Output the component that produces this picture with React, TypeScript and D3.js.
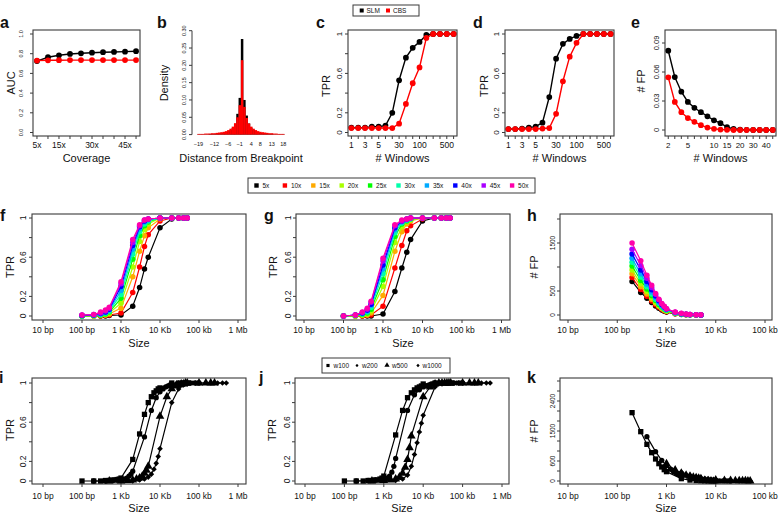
import React from "react";
import * as d3 from "d3";

const FONT = "'Liberation Sans', Arial, Helvetica, sans-serif";
const INK = "#111111";
const FRAME = "#3a3a3a";

// ================= DATA =================
// panel a
const coverage = ["5x", "10x", "15x", "20x", "25x", "30x", "35x", "40x", "45x", "50x"];
const aucSLM = [0.725, 0.764, 0.784, 0.797, 0.804, 0.81, 0.815, 0.818, 0.821, 0.825];
const aucCBS = [0.73, 0.733, 0.734, 0.735, 0.735, 0.735, 0.735, 0.735, 0.735, 0.735];
const aucXLabels = ["5x", "15x", "30x", "45x"];
const aucTicks = [0, 0.2, 0.4, 0.6, 0.8, 1];

// panel b
const distances = [-19, -18, -17, -16, -15, -14, -13, -12, -11, -10, -9, -8, -7, -6, -5, -4, -3, -2, -1, 0, 1, 2, 3, 4, 5, 6, 7, 8, 9, 10, 11, 12, 13, 14, 15, 16, 17, 18];
const densSLM = [0.001, 0.001, 0.001, 0.001, 0.001, 0.002, 0.002, 0.002, 0.003, 0.003, 0.004, 0.005, 0.007, 0.009, 0.013, 0.019, 0.03, 0.06, 0.106, 0.276, 0.1, 0.055, 0.032, 0.02, 0.014, 0.01, 0.007, 0.005, 0.004, 0.003, 0.003, 0.002, 0.002, 0.001, 0.001, 0.001, 0.001, 0.001];
const densCBS = [0.002, 0.002, 0.002, 0.003, 0.003, 0.003, 0.004, 0.004, 0.005, 0.006, 0.007, 0.008, 0.01, 0.013, 0.017, 0.023, 0.033, 0.05, 0.085, 0.215, 0.08, 0.048, 0.032, 0.023, 0.017, 0.013, 0.01, 0.008, 0.007, 0.006, 0.005, 0.004, 0.004, 0.003, 0.003, 0.002, 0.002, 0.002];
const distLabels = [-19, -12, -6, -1, 4, 8, 13, 18];
const densTicks = [0, 0.05, 0.1, 0.15, 0.2, 0.25, 0.3];

// panels c, d
const windowsCats = [1, 2, 3, 4, 5, 10, 20, 30, 40, 50, 100, 200, 300, 400, 500, 1000];
const windowsLabels = [1, 3, 5, 30, 100, 500];
const cSLM = [0.05, 0.05, 0.05, 0.06, 0.06, 0.07, 0.2, 0.53, 0.76, 0.86, 0.92, 0.99, 1, 1, 1, 1];
const cCBS = [0.045, 0.045, 0.045, 0.045, 0.045, 0.045, 0.045, 0.09, 0.29, 0.5, 0.66, 0.96, 1, 1, 1, 1];
const dSLM = [0.035, 0.035, 0.04, 0.05, 0.06, 0.1, 0.36, 0.75, 0.9, 0.95, 0.98, 1, 1, 1, 1, 1];
const dCBS = [0.035, 0.035, 0.035, 0.035, 0.035, 0.04, 0.045, 0.19, 0.52, 0.77, 0.91, 1, 1, 1, 1, 1];
const tprTicks = [0, 0.2, 0.4, 0.6, 0.8, 1];
const tprLabels = [0, 0.2, 0.6, 1];

// panel e
const eWindows = [2, 3, 4, 5, 6, 7, 8, 10, 12, 15, 18, 20, 25, 30, 35, 40, 50];
const eLabels = [2, 5, 10, 15, 20, 30, 40];
const eSLM = [0.082, 0.0548, 0.0396, 0.029, 0.023, 0.0184, 0.0142, 0.01, 0.0071, 0.003, 0.0012, 0.0005, 0.0002, 0, 0, 0, 0];
const eCBS = [0.0545, 0.029, 0.0184, 0.0124, 0.0085, 0.005, 0.0025, 0.0012, 0.0005, 0.0002, 0, 0, 0, 0, 0, 0, 0];
const eTicks = [0, 0.03, 0.06, 0.09];

// panels f, g, h
const covColors = ["#000000", "#FF0000", "#FFAA00", "#AAFF00", "#00FF00", "#00FFAA", "#00AAFF", "#0000FF", "#AA00FF", "#FF00AA"];
const sizeGrid = [100, 200, 300, 400, 500, 1000, 2000, 3000, 4000, 5000, 10000, 20000, 30000, 40000, 50000];
const f05 = [0, 0, 0, 0, 0.005, 0.01, 0.1, 0.29, 0.48, 0.6, 0.9, 0.99, 1, 1, 1];
const f10 = [0, 0, 0, 0.005, 0.01, 0.03, 0.24, 0.5, 0.71, 0.83, 0.97, 1, 1, 1, 1];
const f15 = [0, 0, 0.005, 0.01, 0.02, 0.08, 0.4, 0.66, 0.82, 0.9, 0.99, 1, 1, 1, 1];
const f20 = [0, 0, 0.01, 0.015, 0.03, 0.13, 0.5, 0.76, 0.88, 0.94, 1, 1, 1, 1, 1];
const f25 = [0, 0.005, 0.01, 0.02, 0.04, 0.18, 0.58, 0.82, 0.92, 0.96, 1, 1, 1, 1, 1];
const f30 = [0, 0.005, 0.015, 0.03, 0.05, 0.22, 0.63, 0.86, 0.94, 0.97, 1, 1, 1, 1, 1];
const f35 = [0.005, 0.01, 0.02, 0.035, 0.06, 0.26, 0.68, 0.89, 0.96, 0.98, 1, 1, 1, 1, 1];
const f40 = [0.005, 0.01, 0.025, 0.04, 0.07, 0.3, 0.72, 0.91, 0.97, 0.99, 1, 1, 1, 1, 1];
const f45 = [0.01, 0.015, 0.03, 0.05, 0.08, 0.33, 0.75, 0.92, 0.98, 0.99, 1, 1, 1, 1, 1];
const f50 = [0.01, 0.015, 0.04, 0.06, 0.09, 0.35, 0.78, 0.93, 0.98, 0.99, 1, 1, 1, 1, 1];

const g05 = [0, 0, 0, 0, 0, 0.02, 0.25, 0.49, 0.65, 0.78, 0.97, 1, 1, 1, 1];
const g10 = [0, 0, 0, 0.005, 0.01, 0.1, 0.49, 0.72, 0.87, 0.92, 0.99, 1, 1, 1, 1];
const g15 = [0, 0, 0.005, 0.01, 0.03, 0.21, 0.66, 0.86, 0.94, 0.97, 1, 1, 1, 1, 1];
const g20 = [0, 0, 0.01, 0.02, 0.05, 0.3, 0.75, 0.91, 0.96, 0.98, 1, 1, 1, 1, 1];
const g25 = [0, 0.005, 0.015, 0.03, 0.07, 0.37, 0.81, 0.94, 0.97, 0.99, 1, 1, 1, 1, 1];
const g30 = [0, 0.005, 0.02, 0.04, 0.09, 0.43, 0.85, 0.95, 0.98, 0.99, 1, 1, 1, 1, 1];
const g35 = [0, 0.01, 0.025, 0.05, 0.11, 0.48, 0.88, 0.96, 0.98, 1, 1, 1, 1, 1, 1];
const g40 = [0, 0.01, 0.03, 0.06, 0.12, 0.52, 0.9, 0.97, 0.99, 1, 1, 1, 1, 1, 1];
const g45 = [0, 0.01, 0.035, 0.07, 0.14, 0.56, 0.92, 0.97, 0.99, 1, 1, 1, 1, 1, 1];
const g50 = [0, 0.01, 0.04, 0.08, 0.15, 0.59, 0.93, 0.98, 0.99, 1, 1, 1, 1, 1, 1];

const fpSizeGrid = [200, 300, 400, 500, 600, 700, 800, 900, 1000, 1500, 2000, 2500, 3000, 4000, 5000];
const h05 = [700, 470, 350, 260, 190, 140, 105, 80, 60, 25, 12, 6, 3, 1, 0];
const h10 = [780, 530, 390, 290, 215, 160, 120, 90, 68, 28, 14, 7, 4, 2, 1];
const h15 = [860, 590, 440, 330, 245, 180, 135, 100, 76, 32, 16, 8, 4, 2, 1];
const h20 = [940, 650, 490, 365, 270, 200, 150, 112, 85, 36, 18, 9, 5, 2, 1];
const h25 = [1020, 720, 540, 400, 300, 220, 165, 124, 94, 40, 20, 10, 6, 3, 1];
const h30 = [1100, 790, 590, 440, 330, 245, 182, 137, 104, 44, 22, 12, 6, 3, 2];
const h35 = [1180, 860, 640, 480, 360, 268, 200, 150, 114, 48, 25, 13, 7, 4, 2];
const h40 = [1270, 940, 700, 525, 395, 295, 220, 165, 125, 53, 28, 15, 8, 4, 2];
const h45 = [1370, 1030, 765, 575, 430, 320, 235, 175, 130, 57, 31, 17, 10, 5, 2];
const h50 = [1500, 1130, 830, 620, 450, 330, 240, 180, 130, 60, 35, 20, 12, 6, 3];
const fpTicksH = [0, 500, 1000, 1500, 2000];
const fpLabelsH = [0, 500, 1500];

// panels i, j, k
const winNames = ["w100", "w200", "w500", "w1000"];
const winSizes100 = [100, 200, 300, 400, 500, 600, 700, 800, 900, 1000, 2000, 3000, 4000, 5000, 6000, 7000, 8000, 9000, 10000, 20000, 30000, 40000, 50000];
const winSizes200 = [200, 400, 600, 800, 1000, 1200, 1400, 1600, 1800, 2000, 4000, 6000, 8000, 10000, 12000, 14000, 16000, 18000, 20000, 40000, 60000, 80000, 100000];
const winSizes500 = [500, 1000, 1500, 2000, 2500, 3000, 3500, 4000, 4500, 5000, 10000, 15000, 20000, 25000, 30000, 35000, 40000, 45000, 50000, 100000, 150000, 200000, 250000];
const winSizes1000 = [1000, 2000, 3000, 4000, 5000, 6000, 7000, 8000, 9000, 10000, 20000, 30000, 40000, 50000, 60000, 70000, 80000, 90000, 100000, 200000, 300000, 400000, 500000];
const iW100 = [0, 0, 0, 0.005, 0.005, 0.01, 0.01, 0.015, 0.02, 0.03, 0.22, 0.48, 0.68, 0.8, 0.86, 0.9, 0.92, 0.94, 0.95, 1, 1, 1, 1];
const iW200 = [0, 0, 0.005, 0.01, 0.015, 0.02, 0.03, 0.05, 0.07, 0.1, 0.45, 0.72, 0.85, 0.91, 0.94, 0.96, 0.97, 0.98, 0.99, 1, 1, 1, 1];
const iW500 = [0, 0, 0.005, 0.01, 0.02, 0.03, 0.05, 0.08, 0.11, 0.15, 0.66, 0.86, 0.94, 0.97, 0.98, 0.99, 0.99, 1, 1, 1, 1, 1, 1];
const iW1000 = [0, 0, 0.01, 0.02, 0.04, 0.07, 0.12, 0.18, 0.25, 0.33, 0.8, 0.94, 0.98, 0.99, 1, 1, 1, 1, 1, 1, 1, 1, 1];
const jW100 = [0, 0, 0, 0.005, 0.005, 0.01, 0.01, 0.02, 0.03, 0.05, 0.47, 0.72, 0.85, 0.9, 0.93, 0.95, 0.96, 0.97, 0.99, 1, 1, 1, 1];
const jW200 = [0, 0.005, 0.01, 0.01, 0.02, 0.03, 0.05, 0.09, 0.15, 0.23, 0.72, 0.88, 0.93, 0.96, 0.97, 0.98, 0.99, 0.99, 1, 1, 1, 1, 1];
const jW500 = [0, 0.005, 0.01, 0.02, 0.04, 0.08, 0.14, 0.22, 0.34, 0.46, 0.86, 0.96, 0.99, 1, 1, 1, 1, 1, 1, 1, 1, 1, 1];
const jW1000 = [0, 0.005, 0.02, 0.06, 0.15, 0.27, 0.39, 0.5, 0.59, 0.67, 0.96, 0.99, 1, 1, 1, 1, 1, 1, 1, 1, 1, 1, 1];

const kSizes100 = [200, 300, 400, 500, 600, 700, 800, 900, 1000, 2000, 3000, 4000, 5000, 6000, 7000, 8000, 9000, 10000];
const kFP100 = [2050, 1480, 1100, 850, 660, 520, 420, 340, 280, 70, 28, 14, 8, 5, 3, 2, 1, 0];
const kSizes200 = [400, 600, 800, 1000, 1200, 1400, 1600, 1800, 2000, 4000, 6000, 8000, 10000, 12000, 14000, 16000, 18000, 20000];
const kFP200 = [1330, 880, 620, 460, 350, 280, 225, 185, 155, 45, 18, 9, 5, 3, 2, 1, 1, 0];
const kSizes500 = [1000, 1500, 2000, 2500, 3000, 3500, 4000, 4500, 5000, 10000, 15000, 20000, 25000, 30000, 35000, 40000, 45000, 50000];
const kFP500 = [520, 330, 235, 175, 140, 115, 95, 82, 72, 30, 18, 13, 10, 8, 6, 5, 4, 3];
const kSizes1000 = [2000, 3000, 4000, 5000, 6000, 7000, 8000, 9000, 10000, 20000, 30000, 40000, 50000];
const kFP1000 = [270, 175, 128, 100, 82, 70, 60, 52, 46, 20, 11, 7, 5];
const fpTicksK = [0, 300, 600, 900, 1200, 1500, 1800, 2100, 2400, 2700, 3000];
const fpLabelsK = [0, 600, 1500, 2400];

const sizeTicksBig = [10, 100, 1000, 10000, 100000, 1000000];
const sizeLabelsBig = ["10 bp", "100 bp", "1 Kb", "10 Kb", "100 kb", "1 Mb"];
const sizeTicksSmall = [10, 100, 1000, 10000, 100000];
const sizeLabelsSmall = ["10 bp", "100 bp", "1 Kb", "10 Kb", "100 kb"];

// ================= HELPERS =================
type Box = { x0: number; x1: number; y0: number; y1: number };
type Fn = (v: number) => number;

const sym = (t: d3.SymbolType, s: number) => d3.symbol().type(t).size(s)() || "";
const diamond = (r: number) => `M0,${-r}L${r},0L0,${r}L${-r},0Z`;

function Frame({ b }: { b: Box }) {
  return <rect x={b.x0} y={b.y0} width={b.x1 - b.x0} height={b.y1 - b.y0} fill="none" stroke={FRAME} strokeWidth={1.1} />;
}

function YAxis({ x, y, ticks, labels, fmt, fs, lx }: { x: number; y: Fn; ticks: number[]; labels: number[]; fmt: (v: number) => string; fs: number; lx: number }) {
  return (
    <g>
      {ticks.map((t) => (
        <line key={"t" + t} x1={x} x2={x - 3} y1={y(t)} y2={y(t)} stroke={FRAME} strokeWidth={1} />
      ))}
      {labels.map((t) => (
        <text key={"l" + t} transform={`translate(${lx},${y(t)}) rotate(-90)`} textAnchor="middle" fontSize={fs} fill={INK}>
          {fmt(t)}
        </text>
      ))}
    </g>
  );
}

function XTicks({ y, xs }: { y: number; xs: number[] }) {
  return (
    <g>
      {xs.map((x, i) => (
        <line key={i} x1={x} x2={x} y1={y} y2={y + 3} stroke={FRAME} strokeWidth={1} />
      ))}
    </g>
  );
}

function XLabels({ y, items, fs }: { y: number; items: { x: number; t: string }[]; fs: number }) {
  return (
    <g>
      {items.map((it, i) => (
        <text key={i} x={it.x} y={y} textAnchor="middle" fontSize={fs} fill={INK}>
          {it.t}
        </text>
      ))}
    </g>
  );
}

function YTitle({ x, y, t }: { x: number; y: number; t: string }) {
  return (
    <text transform={`translate(${x},${y}) rotate(-90)`} textAnchor="middle" fontSize={11} fill={INK}>
      {t}
    </text>
  );
}

function Letter({ x, y, t }: { x: number; y: number; t: string }) {
  return (
    <text x={x} y={y} fontSize={16} fontWeight="bold" fill={INK}>
      {t}
    </text>
  );
}

function Trace({ px, py, color, d, lw = 1 }: { px: number[]; py: number[]; color: string; d: string; lw?: number }) {
  const path = d3
    .line<number>()
    .x((v) => v)
    .y((_, i) => py[i])(px);
  return (
    <g>
      <path d={path || ""} fill="none" stroke={color} strokeWidth={lw} />
      {px.map((x, i) => (
        <path key={i} d={d} transform={`translate(${x},${py[i]})`} fill={color} />
      ))}
    </g>
  );
}

const fmt1 = (v: number) => v.toFixed(1);
const fmt2 = (v: number) => v.toFixed(2);
const fmtG = (v: number) => String(v);

// ================= APP =================
export default function App() {
  const circleTop = sym(d3.symbolCircle, 26);
  const circleMid = sym(d3.symbolCircle, 24);
  const sq = sym(d3.symbolSquare, 28);
  const tri = sym(d3.symbolTriangle, 32);
  const dia = diamond(2.8);
  const winMarks = [sq, sym(d3.symbolCircle, 22), tri, dia];

  // --- panel a ---
  const bA: Box = { x0: 33, x1: 140, y0: 30, y1: 136 };
  const xA = d3.scalePoint<string>().domain(coverage).range([bA.x0, bA.x1]).padding(0.36);
  const yA = d3.scaleLinear().domain([0, 1]).range([132.5, 34]);

  // --- panel b ---
  const xB = d3.scaleBand<number>().domain(distances).range([197.3, 284.4]).padding(0);
  const yB = d3.scaleLinear().domain([0, 0.3]).range([134.6, 30.7]);
  const bw = xB.bandwidth();

  // --- panels c, d ---
  const bC: Box = { x0: 348, x1: 457, y0: 30, y1: 136 };
  const bD: Box = { x0: 505, x1: 614, y0: 30, y1: 136 };
  const wcStr = windowsCats.map(String);
  const xC = d3.scalePoint<string>().domain(wcStr).range([bC.x0, bC.x1]).padding(0.5);
  const xD = d3.scalePoint<string>().domain(wcStr).range([bD.x0, bD.x1]).padding(0.5);
  const yTop = d3.scaleLinear().domain([0, 1]).range([132.5, 34]);

  // --- panel e ---
  const bE: Box = { x0: 665, x1: 776, y0: 30, y1: 136 };
  const ewStr = eWindows.map(String);
  const xE = d3.scalePoint<string>().domain(ewStr).range([bE.x0, bE.x1]).padding(0.5);
  const yE = d3.scaleLinear().domain([0, 0.09]).range([130, 43]);

  // --- row 2 ---
  const bF: Box = { x0: 32, x1: 246, y0: 214, y1: 320 };
  const bG: Box = { x0: 296, x1: 510, y0: 214, y1: 320 };
  const bH: Box = { x0: 560, x1: 772, y0: 214, y1: 320 };
  const xF = d3.scaleLog().domain([10, 1e6]).range([43, 238]);
  const xG = d3.scaleLog().domain([10, 1e6]).range([304, 501.5]);
  const xH = d3.scaleLog().domain([10, 1e5]).range([568, 765]);
  const yR2 = d3.scaleLinear().domain([0, 1]).range([316, 218]);
  const yH = d3.scaleLinear().domain([0, 2000]).range([315, 219]);

  // --- row 3 ---
  const bI: Box = { x0: 32, x1: 246, y0: 378, y1: 484 };
  const bJ: Box = { x0: 295, x1: 509, y0: 378, y1: 484 };
  const bK: Box = { x0: 560, x1: 772, y0: 378, y1: 484 };
  const xI = d3.scaleLog().domain([10, 1e6]).range([43, 238]);
  const xJ = d3.scaleLog().domain([10, 1e6]).range([305, 502]);
  const xK = d3.scaleLog().domain([10, 1e5]).range([568, 765]);
  const yR3 = d3.scaleLinear().domain([0, 1]).range([481, 383]);
  const yK = d3.scaleLinear().domain([0, 3000]).range([481, 381]);

  const fSeries = [f05, f10, f15, f20, f25, f30, f35, f40, f45, f50];
  const gSeries = [g05, g10, g15, g20, g25, g30, g35, g40, g45, g50];
  const hSeries = [h05, h10, h15, h20, h25, h30, h35, h40, h45, h50];
  const winSizes = [winSizes100, winSizes200, winSizes500, winSizes1000];
  const iSeries = [iW100, iW200, iW500, iW1000];
  const jSeries = [jW100, jW200, jW500, jW1000];
  const kSizes = [kSizes100, kSizes200, kSizes500, kSizes1000];
  const kSeries = [kFP100, kFP200, kFP500, kFP1000];

  const topLabelY = 148;
  const topTitleY = 162;

  return (
    <svg width={778} height={513} style={{ position: "absolute", left: 0, top: 0 }} fontFamily={FONT}>
      <rect x={0} y={0} width={778} height={513} fill="#ffffff" />

      {/* ===== legend SLM / CBS ===== */}
      <g>
        <rect x={353} y={5} width={66} height={11} fill="#fff" stroke={FRAME} strokeWidth={1} />
        <rect x={359.7} y={8.5} width={4} height={4} fill="#000" />
        <text x={366.5} y={12.8} fontSize={6.5} fill={INK}>SLM</text>
        <rect x={386} y={8.5} width={4} height={4} fill="#FF0000" />
        <text x={393} y={12.8} fontSize={6.5} fill={INK}>CBS</text>
      </g>

      {/* ===== panel a ===== */}
      <Letter x={0} y={28} t="a" />
      <Frame b={bA} />
      <YAxis x={bA.x0} y={yA} ticks={aucTicks} labels={aucTicks} fmt={fmt1} fs={5.5} lx={23} />
      <XTicks y={bA.y1} xs={coverage.map((c) => xA(c) as number)} />
      <XLabels y={topLabelY} fs={8.5} items={aucXLabels.map((l) => ({ x: xA(l) as number, t: l }))} />
      <text x={(bA.x0 + bA.x1) / 2} y={topTitleY} textAnchor="middle" fontSize={11} fill={INK}>Coverage</text>
      <YTitle x={15} y={83} t="AUC" />
      <Trace px={coverage.map((c) => xA(c) as number)} py={aucSLM.map(yA)} color="#000" d={circleTop} lw={1.4} />
      <Trace px={coverage.map((c) => xA(c) as number)} py={aucCBS.map(yA)} color="#FF0000" d={circleTop} lw={1.4} />

      {/* ===== panel b ===== */}
      <Letter x={157} y={28} t="b" />
      <line x1={192} x2={192} y1={yB(0)} y2={yB(0.3)} stroke={FRAME} strokeWidth={1} />
      <YAxis x={192} y={yB} ticks={densTicks} labels={densTicks} fmt={fmt2} fs={5.5} lx={185.5} />
      {distances.map((d, i) => (
        <rect key={"s" + d} x={xB(d) as number} y={yB(densSLM[i])} width={bw + 0.2} height={yB(0) - yB(densSLM[i])} fill="#000" />
      ))}
      {distances.map((d, i) => (
        <rect key={"c" + d} x={xB(d) as number} y={yB(densCBS[i])} width={bw + 0.2} height={yB(0) - yB(densCBS[i])} fill="#FF0000" />
      ))}
      <XLabels y={146} fs={5.5} items={distLabels.map((v) => ({ x: (xB(v) as number) + bw / 2, t: v < 0 ? "\u2212" + Math.abs(v) : String(v) }))} />
      <text x={241} y={topTitleY} textAnchor="middle" fontSize={11} fill={INK}>Distance from Breakpoint</text>
      <YTitle x={168} y={83} t="Density" />

      {/* ===== panel c ===== */}
      <Letter x={316} y={28} t="c" />
      <Frame b={bC} />
      <YAxis x={bC.x0} y={yTop} ticks={tprTicks} labels={tprLabels} fmt={fmtG} fs={8} lx={342} />
      <XTicks y={bC.y1} xs={wcStr.map((c) => xC(c) as number)} />
      <XLabels y={topLabelY} fs={8.5} items={windowsLabels.map((v) => ({ x: xC(String(v)) as number, t: String(v) }))} />
      <text x={(bC.x0 + bC.x1) / 2} y={topTitleY} textAnchor="middle" fontSize={11} fill={INK}># Windows</text>
      <YTitle x={330} y={86} t="TPR" />
      <Trace px={wcStr.map((c) => xC(c) as number)} py={cSLM.map(yTop)} color="#000" d={circleTop} lw={1.4} />
      <Trace px={wcStr.map((c) => xC(c) as number)} py={cCBS.map(yTop)} color="#FF0000" d={circleTop} lw={1.4} />

      {/* ===== panel d ===== */}
      <Letter x={473} y={28} t="d" />
      <Frame b={bD} />
      <YAxis x={bD.x0} y={yTop} ticks={tprTicks} labels={tprLabels} fmt={fmtG} fs={8} lx={499} />
      <XTicks y={bD.y1} xs={wcStr.map((c) => xD(c) as number)} />
      <XLabels y={topLabelY} fs={8.5} items={windowsLabels.map((v) => ({ x: xD(String(v)) as number, t: String(v) }))} />
      <text x={(bD.x0 + bD.x1) / 2} y={topTitleY} textAnchor="middle" fontSize={11} fill={INK}># Windows</text>
      <YTitle x={488} y={86} t="TPR" />
      <Trace px={wcStr.map((c) => xD(c) as number)} py={dSLM.map(yTop)} color="#000" d={circleTop} lw={1.4} />
      <Trace px={wcStr.map((c) => xD(c) as number)} py={dCBS.map(yTop)} color="#FF0000" d={circleTop} lw={1.4} />

      {/* ===== panel e ===== */}
      <Letter x={631} y={28} t="e" />
      <Frame b={bE} />
      <YAxis x={bE.x0} y={yE} ticks={eTicks} labels={eTicks} fmt={fmtG} fs={7.5} lx={659} />
      <XTicks y={bE.y1} xs={ewStr.map((c) => xE(c) as number)} />
      <XLabels y={topLabelY} fs={8} items={eLabels.map((v) => ({ x: xE(String(v)) as number, t: String(v) }))} />
      <text x={(bE.x0 + bE.x1) / 2} y={topTitleY} textAnchor="middle" fontSize={11} fill={INK}># Windows</text>
      <YTitle x={645} y={81} t="# FP" />
      <Trace px={ewStr.map((c) => xE(c) as number)} py={eSLM.map(yE)} color="#000" d={circleTop} lw={1.4} />
      <Trace px={ewStr.map((c) => xE(c) as number)} py={eCBS.map(yE)} color="#FF0000" d={circleTop} lw={1.4} />

      {/* ===== legend coverage ===== */}
      <g>
        <rect x={248} y={178} width={287} height={15} fill="#fff" stroke={FRAME} strokeWidth={1} />
        {coverage.map((c, i) => (
          <g key={c}>
            <rect x={254.3 + i * 28.4} y={183.3} width={4.4} height={4.4} fill={covColors[i]} />
            <text x={262.5 + i * 28.4} y={187.8} fontSize={6.5} fill={INK}>{c}</text>
          </g>
        ))}
      </g>

      {/* ===== panel f ===== */}
      <Letter x={0} y={221} t="f" />
      <Frame b={bF} />
      <YAxis x={bF.x0} y={yR2} ticks={tprTicks} labels={tprLabels} fmt={fmtG} fs={8.5} lx={26} />
      <XTicks y={bF.y1} xs={sizeTicksBig.map(xF)} />
      <XLabels y={333} fs={8.5} items={sizeTicksBig.map((v, i) => ({ x: xF(v), t: sizeLabelsBig[i] }))} />
      <text x={(bF.x0 + bF.x1) / 2} y={347} textAnchor="middle" fontSize={11} fill={INK}>Size</text>
      <YTitle x={13.5} y={267} t="TPR" />
      {fSeries.map((s, k) => (
        <Trace key={k} px={sizeGrid.map(xF)} py={s.map(yR2)} color={covColors[k]} d={circleMid} lw={1.2} />
      ))}

      {/* ===== panel g ===== */}
      <Letter x={264} y={221} t="g" />
      <Frame b={bG} />
      <YAxis x={bG.x0} y={yR2} ticks={tprTicks} labels={tprLabels} fmt={fmtG} fs={8.5} lx={290.5} />
      <XTicks y={bG.y1} xs={sizeTicksBig.map(xG)} />
      <XLabels y={333} fs={8.5} items={sizeTicksBig.map((v, i) => ({ x: xG(v), t: sizeLabelsBig[i] }))} />
      <text x={(bG.x0 + bG.x1) / 2} y={347} textAnchor="middle" fontSize={11} fill={INK}>Size</text>
      <YTitle x={277} y={267} t="TPR" />
      {gSeries.map((s, k) => (
        <Trace key={k} px={sizeGrid.map(xG)} py={s.map(yR2)} color={covColors[k]} d={circleMid} lw={1.2} />
      ))}

      {/* ===== panel h ===== */}
      <Letter x={527} y={221} t="h" />
      <Frame b={bH} />
      <YAxis x={bH.x0} y={yH} ticks={fpTicksH} labels={fpLabelsH} fmt={fmtG} fs={6.5} lx={555} />
      <XTicks y={bH.y1} xs={sizeTicksSmall.map(xH)} />
      <XLabels y={333} fs={8.5} items={sizeTicksSmall.map((v, i) => ({ x: xH(v), t: sizeLabelsSmall[i] }))} />
      <text x={(bH.x0 + bH.x1) / 2} y={347} textAnchor="middle" fontSize={11} fill={INK}>Size</text>
      <YTitle x={538} y={267} t="# FP" />
      {hSeries.map((s, k) => (
        <Trace key={k} px={fpSizeGrid.map(xH)} py={s.map(yH)} color={covColors[k]} d={circleMid} lw={1.2} />
      ))}

      {/* ===== legend windows ===== */}
      <g>
        <rect x={322} y={358} width={128} height={15} fill="#fff" stroke={FRAME} strokeWidth={1} />
        <path d={sym(d3.symbolSquare, 10)} transform="translate(328,365.5)" fill="#000" />
        <text x={333.5} y={367.8} fontSize={6.5} fill={INK}>{winNames[0]}</text>
        <path d={sym(d3.symbolCircle, 5)} transform="translate(357,365.5)" fill="#000" />
        <text x={362} y={367.8} fontSize={6.5} fill={INK}>{winNames[1]}</text>
        <path d={sym(d3.symbolTriangle, 12)} transform="translate(387,365.3)" fill="#000" />
        <text x={392} y={367.8} fontSize={6.5} fill={INK}>{winNames[2]}</text>
        <path d={diamond(1.7)} transform="translate(418,365.5)" fill="#000" />
        <text x={422.5} y={367.8} fontSize={6.5} fill={INK}>{winNames[3]}</text>
      </g>

      {/* ===== panel i ===== */}
      <Letter x={-1} y={383} t="i" />
      <Frame b={bI} />
      <YAxis x={bI.x0} y={yR3} ticks={tprTicks} labels={tprLabels} fmt={fmtG} fs={8.5} lx={26} />
      <XTicks y={bI.y1} xs={sizeTicksBig.map(xI)} />
      <XLabels y={499} fs={8.5} items={sizeTicksBig.map((v, i) => ({ x: xI(v), t: sizeLabelsBig[i] }))} />
      <text x={(bI.x0 + bI.x1) / 2} y={512} textAnchor="middle" fontSize={11} fill={INK}>Size</text>
      <YTitle x={13.5} y={430} t="TPR" />
      {iSeries.map((s, k) => (
        <Trace key={k} px={winSizes[k].map(xI)} py={s.map(yR3)} color="#000" d={winMarks[k]} lw={1.2} />
      ))}

      {/* ===== panel j ===== */}
      <Letter x={259} y={383} t="j" />
      <Frame b={bJ} />
      <YAxis x={bJ.x0} y={yR3} ticks={tprTicks} labels={tprLabels} fmt={fmtG} fs={8.5} lx={289.5} />
      <XTicks y={bJ.y1} xs={sizeTicksBig.map(xJ)} />
      <XLabels y={499} fs={8.5} items={sizeTicksBig.map((v, i) => ({ x: xJ(v), t: sizeLabelsBig[i] }))} />
      <text x={(bJ.x0 + bJ.x1) / 2} y={512} textAnchor="middle" fontSize={11} fill={INK}>Size</text>
      <YTitle x={276} y={430} t="TPR" />
      {jSeries.map((s, k) => (
        <Trace key={k} px={winSizes[k].map(xJ)} py={s.map(yR3)} color="#000" d={winMarks[k]} lw={1.2} />
      ))}

      {/* ===== panel k ===== */}
      <Letter x={527} y={383} t="k" />
      <Frame b={bK} />
      <YAxis x={bK.x0} y={yK} ticks={fpTicksK} labels={fpLabelsK} fmt={fmtG} fs={6.5} lx={555} />
      <XTicks y={bK.y1} xs={sizeTicksSmall.map(xK)} />
      <XLabels y={499} fs={8.5} items={sizeTicksSmall.map((v, i) => ({ x: xK(v), t: sizeLabelsSmall[i] }))} />
      <text x={(bK.x0 + bK.x1) / 2} y={512} textAnchor="middle" fontSize={11} fill={INK}>Size</text>
      <YTitle x={538} y={431} t="# FP" />
      {kSeries.map((s, k) => (
        <Trace key={k} px={kSizes[k].map(xK)} py={s.map(yK)} color="#000" d={winMarks[k]} lw={1.2} />
      ))}
    </svg>
  );
}
